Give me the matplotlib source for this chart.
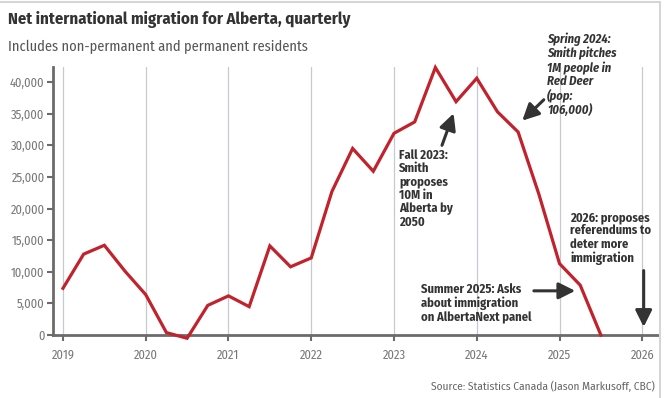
import numpy as np
import matplotlib.pyplot as plt
import matplotlib.ticker as mticker
from matplotlib.patches import Rectangle

plt.rcParams['font.family'] = ['Fira Sans Condensed', 'DejaVu Sans']

# quarterly net international migration, Alberta
quarters = np.arange(2019.0, 2025.51, 0.25)
migration = [7400, 12800, 14200, 10100, 6400, 400, -500, 4700,
             6200, 4500, 14100, 10800, 12200, 22700, 29500, 25900,
             31900, 33700, 42300, 36900, 40600, 35300, 32100, 22300,
             11300, 7900, 0]
year_ticks = [2019, 2020, 2021, 2022, 2023, 2024, 2025, 2026]
y_ticks = [0, 5000, 10000, 15000, 20000, 25000, 30000, 35000, 40000]

red = '#c1222b'
dark = '#333333'
grey = '#6b6b6b'

fig = plt.figure(figsize=(6.67, 3.98), dpi=100)
ax = fig.add_axes([0.0795, 0.158, 0.907, 0.674])

ax.plot(quarters, migration, color=red, lw=2.3, solid_joinstyle='miter',
        zorder=3, clip_on=False)

ax.set_xlim(2018.88, 2026.19)
ax.set_ylim(0, 42400)
ax.set_xticks(year_ticks)
ax.set_yticks(y_ticks)
ax.yaxis.set_major_formatter(mticker.FuncFormatter(lambda v, p: f'{int(v):,}'))
ax.grid(axis='x', color='#c3cbd1', lw=0.9)
ax.set_axisbelow(True)

for s in ['top', 'right']:
    ax.spines[s].set_visible(False)
ax.spines['left'].set_color(grey)
ax.spines['bottom'].set_color(grey)
ax.spines['left'].set_linewidth(2)
ax.spines['bottom'].set_linewidth(2)
ax.tick_params(axis='both', colors=grey, labelcolor='#777777', labelsize=9,
               length=4, width=1.5)
ax.tick_params(axis='y', pad=2)
ax.tick_params(axis='x', pad=6)

# titles
fig.text(0.012, 0.95, 'Net international migration for Alberta, quarterly',
         fontsize=12, fontweight='bold', color=dark, va='center')
fig.text(0.012, 0.882, 'Includes non-permanent and permanent residents',
         fontsize=10.4, color='#555555', va='center')
fig.text(0.982, 0.03, 'Source: Statistics Canada (Jason Markusoff, CBC)',
         fontsize=8.2, color='#666666', ha='right', va='center')

# annotations
arrow = dict(arrowstyle='-|>,head_length=1.0,head_width=0.5', color=dark, lw=2.2,
             shrinkA=0, shrinkB=0)
kw = dict(fontsize=9, fontweight='bold', color=dark, va='top', linespacing=1.1)

ax.text(2024.85, 47800, 'Spring 2024:\nSmith pitches\n1M people in\nRed Deer\n(pop:\n106,000)',
        style='italic', **kw)
ax.annotate('', xy=(2024.55, 33900), xytext=(2024.81, 37200), arrowprops=arrow)

ax.text(2023.06, 29400, 'Fall 2023:\nSmith\nproposes\n10M in\nAlberta by\n2050', **kw)
ax.annotate('', xy=(2023.72, 35050), xytext=(2023.58, 30000), arrowprops=arrow)

ax.text(2023.33, 8200, 'Summer 2025: Asks\nabout immigration\non AlbertaNext panel', **kw)
ax.annotate('', xy=(2025.19, 7000), xytext=(2024.69, 7000), arrowprops=arrow)

ax.text(2025.13, 19600, '2026: proposes\nreferendums to\ndeter more\nimmigration', **kw)
ax.annotate('', xy=(2026.017, 1300), xytext=(2026.017, 10200), arrowprops=arrow)

# light frame around the graphic
fig.patches.append(Rectangle((-0.01, -0.1), 1.0, 1.095, transform=fig.transFigure,
                             fill=False, edgecolor='#d5d5d5', lw=1.5))

fig.savefig('out.png', dpi=100)
